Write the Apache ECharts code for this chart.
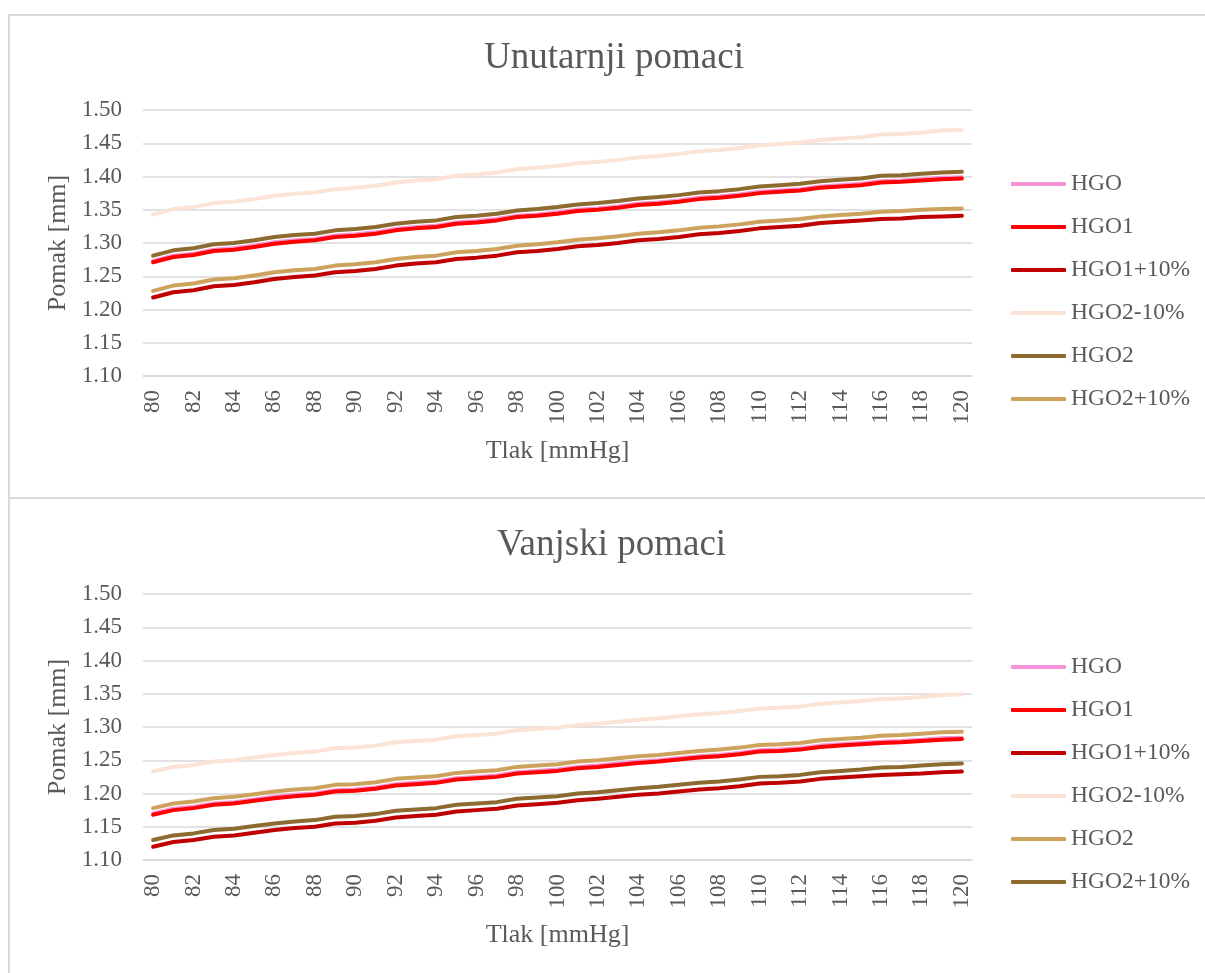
<!DOCTYPE html>
<html>
<head>
<meta charset="utf-8">
<script src="https://cdn.jsdelivr.net/npm/echarts@6/dist/echarts.min.js"></script>
<style>
  html, body { margin: 0; padding: 0; background: #fff; overflow: hidden; }
  .box { position: absolute; left: 8px; width: 1220px; border: 2px solid #d9d9d9; box-sizing: border-box; }
  #boxTop { top: 14px; height: 485px; }
  #boxBottom { top: 497px; height: 500px; }
  #chart { position: absolute; left: 0; top: 0; width: 1205px; height: 973px; }
</style>
</head>
<body>
<div id="boxTop" class="box"></div>
<div id="boxBottom" class="box"></div>
<div id="chart"></div>
<script>
const pressure = ["80","81","82","83","84","85","86","87","88","89","90","91","92","93","94","95","96","97","98","99","100",
  "101","102","103","104","105","106","107","108","109","110","111","112","113","114","115","116","117","118","119","120"];
const seriesNames = ["HGO", "HGO1", "HGO1+10%", "HGO2-10%", "HGO2", "HGO2+10%"];
const yTicks = { min: 1.1, max: 1.5, step: 0.05 };

// Unutarnji pomaci
const innerHGO = [1.273,1.281,1.284,1.290,1.292,1.296,1.301,1.304,1.306,1.311,1.313,1.316,1.321,1.324,1.326,1.331,1.333,1.336,1.341,1.343,1.346,
  1.350,1.352,1.355,1.359,1.361,1.364,1.368,1.370,1.373,1.377,1.379,1.381,1.385,1.387,1.389,1.393,1.394,1.396,1.398,1.399];
const innerHGO1 = [1.271,1.279,1.282,1.288,1.290,1.294,1.299,1.302,1.304,1.309,1.311,1.314,1.319,1.322,1.324,1.329,1.331,1.334,1.339,1.341,1.344,
  1.348,1.350,1.353,1.357,1.359,1.362,1.366,1.368,1.371,1.375,1.377,1.379,1.383,1.385,1.387,1.391,1.392,1.394,1.396,1.397];
const innerHGO1p10 = [1.218,1.226,1.229,1.235,1.237,1.241,1.246,1.249,1.251,1.256,1.258,1.261,1.266,1.269,1.271,1.276,1.278,1.281,1.286,1.288,1.291,
  1.295,1.297,1.300,1.304,1.306,1.309,1.313,1.315,1.318,1.322,1.324,1.326,1.330,1.332,1.334,1.336,1.337,1.339,1.340,1.341];
const innerHGO2m10 = [1.343,1.351,1.354,1.360,1.362,1.366,1.371,1.374,1.376,1.381,1.383,1.386,1.391,1.394,1.396,1.401,1.403,1.406,1.411,1.413,1.416,
  1.420,1.422,1.425,1.429,1.431,1.434,1.438,1.440,1.443,1.447,1.449,1.451,1.455,1.457,1.459,1.463,1.464,1.466,1.469,1.470];
const innerHGO2 = [1.281,1.289,1.292,1.298,1.300,1.304,1.309,1.312,1.314,1.319,1.321,1.324,1.329,1.332,1.334,1.339,1.341,1.344,1.349,1.351,1.354,
  1.358,1.360,1.363,1.367,1.369,1.372,1.376,1.378,1.381,1.385,1.387,1.389,1.393,1.395,1.397,1.401,1.402,1.404,1.406,1.407];
const innerHGO2p10 = [1.228,1.236,1.239,1.245,1.247,1.251,1.256,1.259,1.261,1.266,1.268,1.271,1.276,1.279,1.281,1.286,1.288,1.291,1.296,1.298,1.301,
  1.305,1.307,1.310,1.314,1.316,1.319,1.323,1.325,1.328,1.332,1.334,1.336,1.340,1.342,1.344,1.347,1.348,1.350,1.351,1.352];

// Vanjski pomaci
const outerHGO = [1.170,1.177,1.180,1.185,1.187,1.191,1.195,1.198,1.200,1.205,1.206,1.209,1.214,1.216,1.218,1.223,1.225,1.227,1.232,1.234,1.236,
  1.240,1.242,1.245,1.248,1.250,1.253,1.256,1.258,1.261,1.265,1.266,1.268,1.272,1.274,1.276,1.278,1.279,1.281,1.283,1.284];
const outerHGO1 = [1.168,1.175,1.178,1.183,1.185,1.189,1.193,1.196,1.198,1.203,1.204,1.207,1.212,1.214,1.216,1.221,1.223,1.225,1.230,1.232,1.234,
  1.238,1.240,1.243,1.246,1.248,1.251,1.254,1.256,1.259,1.263,1.264,1.266,1.270,1.272,1.274,1.276,1.277,1.279,1.281,1.282];
const outerHGO1p10 = [1.120,1.127,1.130,1.135,1.137,1.141,1.145,1.148,1.150,1.155,1.156,1.159,1.164,1.166,1.168,1.173,1.175,1.177,1.182,1.184,1.186,
  1.190,1.192,1.195,1.198,1.200,1.203,1.206,1.208,1.211,1.215,1.216,1.218,1.222,1.224,1.226,1.228,1.229,1.230,1.232,1.233];
const outerHGO2m10 = [1.233,1.240,1.243,1.248,1.250,1.254,1.258,1.261,1.263,1.268,1.269,1.272,1.277,1.279,1.281,1.286,1.288,1.290,1.295,1.297,1.299,
  1.303,1.305,1.308,1.311,1.313,1.316,1.319,1.321,1.324,1.328,1.329,1.331,1.335,1.337,1.339,1.342,1.343,1.345,1.348,1.349];
const outerHGO2 = [1.178,1.185,1.188,1.193,1.195,1.199,1.203,1.206,1.208,1.213,1.214,1.217,1.222,1.224,1.226,1.231,1.233,1.235,1.240,1.242,1.244,
  1.248,1.250,1.253,1.256,1.258,1.261,1.264,1.266,1.269,1.273,1.274,1.276,1.280,1.282,1.284,1.287,1.288,1.290,1.292,1.293];
const outerHGO2p10 = [1.130,1.137,1.140,1.145,1.147,1.151,1.155,1.158,1.160,1.165,1.166,1.169,1.174,1.176,1.178,1.183,1.185,1.187,1.192,1.194,1.196,
  1.200,1.202,1.205,1.208,1.210,1.213,1.216,1.218,1.221,1.225,1.226,1.228,1.232,1.234,1.236,1.239,1.240,1.242,1.244,1.245];

const innerColors = ["#f592d8", "#ff0000", "#c00000", "#fbe3d6", "#8c6a30", "#cda25c"];
const outerColors = ["#f592d8", "#ff0000", "#c00000", "#fbe3d6", "#cda25c", "#8c6a30"];

const textColor = "#595959";
const font = "'Liberation Serif', 'Times New Roman', serif";

const panels = [
  { title: "Unutarnji pomaci", titleLeft: 484, titleTop: 40, gridTop: 110, legendTop: 172,
    data: [innerHGO, innerHGO1, innerHGO1p10, innerHGO2m10, innerHGO2, innerHGO2p10], colors: innerColors },
  { title: "Vanjski pomaci", titleLeft: 497, titleTop: 527, gridTop: 594, legendTop: 655,
    data: [outerHGO, outerHGO1, outerHGO1p10, outerHGO2m10, outerHGO2, outerHGO2p10], colors: outerColors },
];

const chart = echarts.init(document.getElementById("chart"), null, { renderer: "canvas" });

const option = {
  animation: false,
  backgroundColor: "transparent",
  title: panels.map((p) => ({
    text: p.title,
    left: p.titleLeft,
    top: p.titleTop,
    padding: 0,
    textStyle: { fontFamily: font, fontSize: 37, fontWeight: "normal", color: textColor },
  })),
  legend: panels.map((p, i) => ({
    orient: "vertical",
    left: 1011,
    top: p.legendTop,
    padding: 0,
    itemWidth: 55,
    itemHeight: 4,
    itemGap: 19,
    icon: "roundRect",
    // zero-width spaces keep the two panels' series names apart
    data: seriesNames.map((name) => ({ name: name + "\u200b".repeat(i) })),
    textStyle: { fontFamily: font, fontSize: 23.5, color: textColor },
  })),
  grid: panels.map((p) => ({ left: 143, top: p.gridTop, width: 829, height: 266 })),
  xAxis: panels.map((p, i) => ({
    type: "category",
    gridIndex: i,
    data: pressure,
    boundaryGap: true,
    name: "Tlak [mmHg]",
    nameLocation: "middle",
    nameGap: 62,
    nameTextStyle: { fontFamily: font, fontSize: 26, color: textColor },
    axisLine: { show: true, lineStyle: { color: "#d9d9d9", width: 1.5 } },
    axisTick: { show: false },
    axisLabel: { interval: 1, rotate: 90, margin: 14, fontFamily: font, fontSize: 23, color: textColor },
  })),
  yAxis: panels.map((p, i) => ({
    type: "value",
    gridIndex: i,
    min: yTicks.min,
    max: yTicks.max,
    interval: yTicks.step,
    name: "Pomak [mm]",
    nameLocation: "middle",
    nameGap: 68,
    nameTextStyle: { fontFamily: font, fontSize: 26, color: textColor },
    axisLine: { show: false },
    axisTick: { show: false },
    axisLabel: { margin: 21, fontFamily: font, fontSize: 23, color: textColor, formatter: (v) => v.toFixed(2) },
    splitLine: { lineStyle: { color: "#d9d9d9", width: 1.5 } },
  })),
  series: panels.flatMap((p, i) =>
    p.data.map((values, k) => ({
      name: seriesNames[k] + "\u200b".repeat(i),
      type: "line",
      xAxisIndex: i,
      yAxisIndex: i,
      data: values,
      showSymbol: false,
      symbol: "none",
      color: p.colors[k],
      lineStyle: { width: 4, color: p.colors[k], cap: "round", join: "round" },
    }))
  ),
};

chart.setOption(option);
</script>
</body>
</html>
